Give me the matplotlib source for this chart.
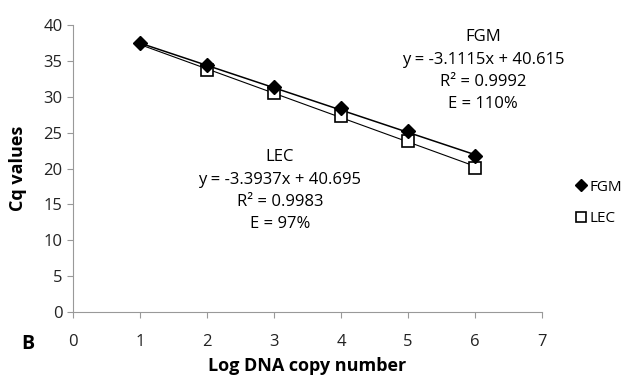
import matplotlib.pyplot as plt
import numpy as np

plt.rcParams['font.family'] = ['Open Sans', 'DejaVu Sans']

# data
log_copies = [1, 2, 3, 4, 5, 6]
fgm_cq = [37.45, 34.5, 31.45, 28.5, 25.3, 21.8]
lec_x = [2, 3, 4, 5, 6]
lec_cq = [33.7, 30.5, 27.4, 23.9, 20.1]

# trendline coefficients printed on the chart
fgm_fit = (-3.1115, 40.615)
lec_fit = (-3.3937, 40.695)

fgm_lines = ['FGM', 'y = -3.1115x + 40.615', 'R² = 0.9992', 'E = 110%']
lec_lines = ['LEC', 'y = -3.3937x + 40.695', 'R² = 0.9983', 'E = 97%']

fig = plt.figure(figsize=(6.27, 3.76), dpi=100)
ax = fig.add_axes([0.1164, 0.170, 0.748, 0.763])

# trendlines
xf = np.array([1, 6])
ax.plot(xf, fgm_fit[0] * xf + fgm_fit[1], color='black', linewidth=1.1, zorder=2)
xl = np.array([1, 6])
ax.plot(xl, lec_fit[0] * xl + lec_fit[1], color='black', linewidth=0.8, zorder=2)

ax.plot(log_copies, fgm_cq, linestyle='none', marker='D', markersize=7,
        color='black', label='FGM', zorder=4)
ax.plot(lec_x, lec_cq, linestyle='none', marker='s', markersize=9,
        markerfacecolor='white', markeredgecolor='black', markeredgewidth=1.2,
        label='LEC', zorder=3)

ax.set_xlim(0, 7)
ax.set_ylim(0, 40)
ax.set_xticks(range(0, 8))
ax.set_yticks(range(0, 41, 5))
for s in ['top', 'right']:
    ax.spines[s].set_visible(False)
for s in ['left', 'bottom']:
    ax.spines[s].set_color('#999999')
ax.tick_params(colors='#999999', labelcolor='#222222', labelsize=12, length=4)
ax.tick_params(axis='x', pad=12)

ax.set_xlabel('Log DNA copy number', fontsize=13, fontweight='bold', labelpad=5)
ax.set_ylabel('Cq values', fontsize=13, fontweight='bold', labelpad=12)

# equation labels, one line each (baseline in data units)
for txt, yb in zip(fgm_lines, [37.75, 34.55, 31.5, 28.45]):
    ax.text(6.12, yb, txt, ha='center', va='baseline', fontsize=12)
for txt, yb in zip(lec_lines, [21.05, 17.85, 14.8, 11.75]):
    ax.text(3.09, yb, txt, ha='center', va='baseline', fontsize=12)

fig.text(0.045, 0.085, 'B', fontsize=14, fontweight='bold', ha='center', va='center')

fig.legend(loc='center left', bbox_to_anchor=(0.898, 0.46), frameon=False,
           fontsize=11, handlelength=0.6, handletextpad=0.2, labelspacing=1.1,
           markerscale=0.85)

fig.savefig('out.png', dpi=100)
